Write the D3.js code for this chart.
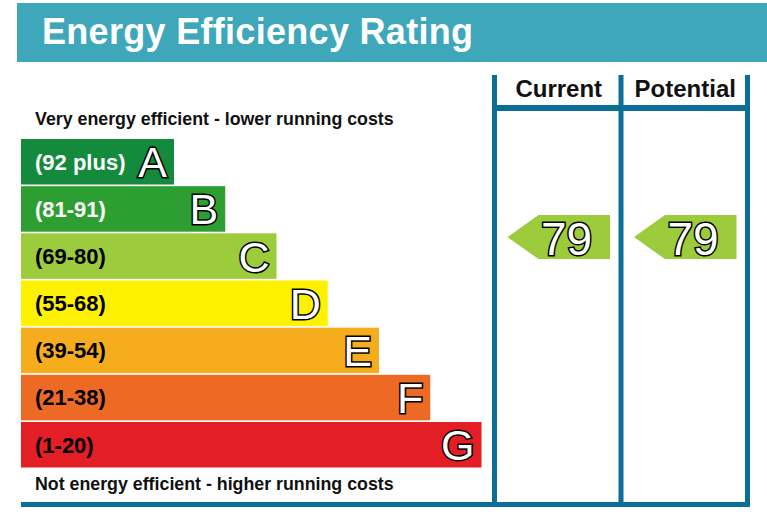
<!DOCTYPE html>
<html>
<head>
<meta charset="utf-8">
<script src="https://cdn.jsdelivr.net/npm/d3@7"></script>
<style>
  body { margin: 0; background: #fff; }
  svg { display: block; font-family: "Liberation Sans", Arial, sans-serif; font-weight: bold; }
</style>
</head>
<body>
<svg id="chart"></svg>
<script>
// rating bands, top (best) to bottom (worst)
var bands = ['A', 'B', 'C', 'D', 'E', 'F', 'G'];
var bandLabels = ['(92 plus)', '(81-91)', '(69-80)', '(55-68)', '(39-54)', '(21-38)', '(1-20)'];
var bandLow = [92, 81, 69, 55, 39, 21, 1];
var bandHigh = [100, 91, 80, 68, 54, 38, 20];
var bandColors = ['#148a3d', '#2d9f32', '#9ccb3c', '#fff200', '#f6ad1d', '#ed6a24', '#e31e25'];
var labelColors = ['#fff', '#fff', '#000', '#000', '#000', '#000', '#000'];

// score columns
var columns = ['Current', 'Potential'];
var ratings = [79, 79];

var W = 767, H = 524;
var lineBlue = '#0a6e96';

var svg = d3.select('#chart')
  .attr('width', W)
  .attr('height', H);

// title bar
svg.append('rect')
  .attr('x', 17).attr('y', 3)
  .attr('width', W - 17).attr('height', 59)
  .attr('fill', '#3ea7b9');

svg.append('text')
  .attr('x', 42).attr('y', 44)
  .attr('fill', '#fff')
  .attr('font-size', 36)
  .attr('letter-spacing', 0.3)
  .text('Energy Efficiency Rating');

// scales
var y = d3.scaleBand()
  .domain(bands)
  .range([139, 467.5])
  .paddingInner(0.035);

var barRight = d3.scaleLinear()
  .domain([0, bands.length - 1])
  .range([174, 481.5]);

var barLeft = 21;

var col = d3.scaleBand()
  .domain(columns)
  .range([494.5, 747.5]);

// top / bottom captions
svg.append('text')
  .attr('x', 35).attr('y', 125)
  .attr('font-size', 17.8)
  .attr('fill', '#111')
  .text('Very energy efficient - lower running costs');

svg.append('text')
  .attr('x', 35).attr('y', 490)
  .attr('font-size', 17.8)
  .attr('fill', '#111')
  .text('Not energy efficient - higher running costs');

// band bars
var rows = svg.selectAll('.band')
  .data(bands)
  .enter()
  .append('g')
  .attr('class', 'band');

rows.append('rect')
  .attr('x', barLeft)
  .attr('y', function (d) { return y(d); })
  .attr('width', function (d, i) { return barRight(i) - barLeft; })
  .attr('height', y.bandwidth())
  .attr('fill', function (d, i) { return bandColors[i]; });

rows.append('text')
  .attr('x', 35)
  .attr('y', function (d) { return y(d) + y.bandwidth() / 2 + 7.8; })
  .attr('font-size', 22)
  .attr('fill', function (d, i) { return labelColors[i]; })
  .text(function (d, i) { return bandLabels[i]; });

// outlined band letters
rows.append('text')
  .attr('x', function (d, i) { return barRight(i) - 7; })
  .attr('y', function (d) { return y(d) + y.bandwidth() / 2 + 15.5; })
  .attr('text-anchor', 'end')
  .attr('font-size', 43)
  .attr('fill', '#fff')
  .attr('stroke', '#000')
  .attr('stroke-width', 3)
  .attr('paint-order', 'stroke')
  .style('font-weight', 'normal')
  .text(function (d) { return d; });

// column frame
var frameTop = 75, frameBottom = 507;
var edges = [col.range()[0]].concat(columns.map(function (c) { return col(c) + col.bandwidth(); }));

svg.selectAll('.vline')
  .data(edges)
  .enter()
  .append('rect')
  .attr('class', 'vline')
  .attr('x', function (d) { return d - 2.5; })
  .attr('y', frameTop)
  .attr('width', 5)
  .attr('height', frameBottom - frameTop)
  .attr('fill', lineBlue);

svg.append('rect')
  .attr('x', edges[0] - 2.5).attr('y', 105)
  .attr('width', edges[edges.length - 1] - edges[0] + 5).attr('height', 6)
  .attr('fill', lineBlue);

svg.append('rect')
  .attr('x', barLeft).attr('y', 502)
  .attr('width', edges[edges.length - 1] + 2.5 - barLeft).attr('height', 5)
  .attr('fill', lineBlue);

svg.selectAll('.colhead')
  .data(columns)
  .enter()
  .append('text')
  .attr('class', 'colhead')
  .attr('x', function (d) { return col(d) + col.bandwidth() / 2 + 1; })
  .attr('y', 96.5)
  .attr('text-anchor', 'middle')
  .attr('font-size', 24)
  .attr('fill', '#111')
  .text(function (d) { return d; });

// rating arrows
function bandOf(v) {
  for (var i = 0; i < bands.length; i++) {
    if (v >= bandLow[i] && v <= bandHigh[i]) return i;
  }
  return bands.length - 1;
}

function ratingY(v) {
  var i = bandOf(v);
  var span = bandHigh[i] - bandLow[i] + 1;
  return y(bands[i]) + (bandHigh[i] - v) / span * y.bandwidth();
}

var arrowH = 44;
var arrows = svg.selectAll('.arrow')
  .data(columns)
  .enter()
  .append('g')
  .attr('class', 'arrow')
  .attr('transform', function (d, i) {
    return 'translate(' + col(d) + ',' + ratingY(ratings[i]) + ')';
  });

arrows.append('path')
  .attr('d', 'M13,0 L44,' + (-arrowH / 2) + ' L115.5,' + (-arrowH / 2) +
    ' L115.5,' + (arrowH / 2) + ' L44,' + (arrowH / 2) + ' Z')
  .attr('fill', function (d, i) { return bandColors[bandOf(ratings[i])]; });

arrows.append('text')
  .attr('x', 72)
  .attr('y', 18)
  .attr('text-anchor', 'middle')
  .attr('font-size', 46)
  .attr('fill', '#fff')
  .attr('stroke', '#000')
  .attr('stroke-width', 3)
  .attr('paint-order', 'stroke')
  .style('font-weight', 'normal')
  .text(function (d, i) { return ratings[i]; });
</script>
</body>
</html>
